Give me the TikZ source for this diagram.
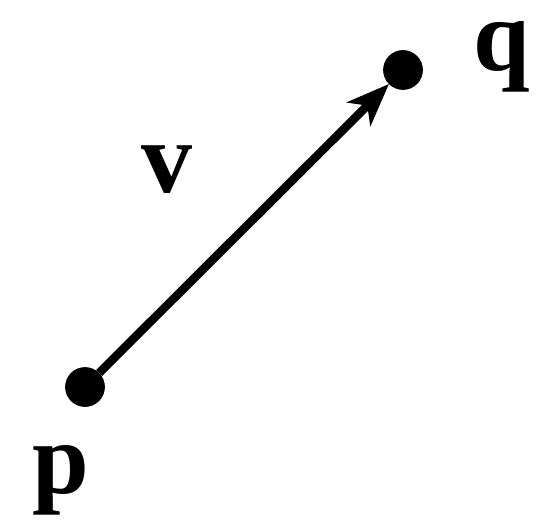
\documentclass[tikz,border=0pt]{standalone}
\usepackage{fontspec}
\setmainfont{Liberation Serif}
\usetikzlibrary{positioning, arrows.meta}

\begin{document}
\begin{tikzpicture}[
    point/.style={draw, circle, fill=black, inner sep=0pt, minimum size=0.78cm},
    ptlabel/.style={anchor=base, inner sep=0pt, font=\fontsize{58}{60}\selectfont\bfseries},
    vec/.style={line width=4.8pt, -{Stealth[length=0.85cm, width=0.66cm, inset=0.24cm]}}
]
    \useasboundingbox (0,0) rectangle (10.78,10.42);

    % ================= POINTS =================
    \node[point] (P) at (1.70, 2.68) {};
    \node[point] (Q) at (8.06, 9.02) {};

    % ================= LABELS =================
    \node[ptlabel] (PLBL) at (1.22, 0.56) {p};
    \node[ptlabel] (QLBL) at (10.04, 9.00) {q};
    \node[ptlabel] (VLBL) at (3.34, 6.56) {v};

    % ================= VECTOR =================
    \draw[vec] (P) -- (Q);

\end{tikzpicture}
\end{document}
